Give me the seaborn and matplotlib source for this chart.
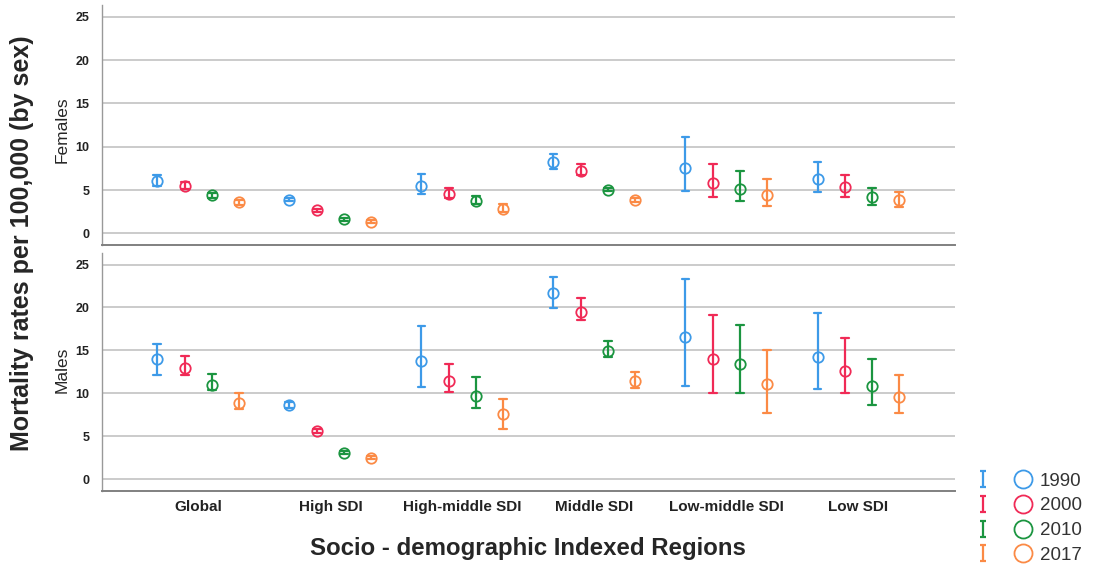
import numpy as np
import pandas as pd
import seaborn as sns
import matplotlib
matplotlib.use("Agg")
import matplotlib.pyplot as plt
from matplotlib.lines import Line2D
from matplotlib.path import Path
from matplotlib.legend_handler import HandlerTuple

regions = ["Global", "High SDI", "High-middle SDI", "Middle SDI", "Low-middle SDI", "Low SDI"]
years = ["1990", "2000", "2010", "2017"]
colors = ["#3d9ae8", "#f02a56", "#1b9540", "#fb8a45"]

# rows = years, columns = regions
f_mid = [[6.0, 3.9, 5.5, 8.25, 7.55, 6.3],
         [5.5, 2.65, 4.5, 7.25, 5.85, 5.4],
         [4.4, 1.6, 3.7, 5.05, 5.1, 4.2],
         [3.6, 1.35, 2.8, 3.85, 4.45, 3.85]]
f_lo = [[5.5, 3.7, 4.5, 7.4, 4.9, 4.8],
        [5.1, 2.45, 4.1, 6.7, 4.25, 4.25],
        [4.1, 1.45, 3.4, 4.85, 3.75, 3.3],
        [3.3, 1.2, 2.5, 3.6, 3.2, 3.0]]
f_hi = [[6.7, 4.1, 6.8, 9.1, 11.15, 8.25],
        [5.9, 2.85, 5.2, 8.0, 8.0, 6.75],
        [4.7, 1.75, 4.3, 5.25, 7.2, 5.2],
        [3.9, 1.5, 3.35, 4.1, 6.3, 4.8]]

m_mid = [[13.95, 8.65, 13.8, 21.7, 16.6, 14.2],
         [13.0, 5.6, 11.45, 19.5, 14.0, 12.6],
         [11.0, 3.1, 9.65, 14.9, 13.4, 10.9],
         [8.9, 2.5, 7.55, 11.45, 11.1, 9.55]]
m_lo = [[12.1, 8.3, 10.7, 19.9, 10.9, 10.45],
        [12.1, 5.4, 10.2, 18.5, 10.0, 10.0],
        [10.35, 2.95, 8.3, 14.2, 10.0, 8.65],
        [8.2, 2.35, 5.9, 10.6, 7.75, 7.7]]
m_hi = [[15.7, 9.0, 17.9, 23.5, 23.35, 19.35],
        [14.4, 5.8, 13.4, 21.05, 19.1, 16.45],
        [12.3, 3.25, 11.85, 16.1, 18.0, 13.95],
        [10.0, 2.7, 9.35, 12.45, 15.0, 12.15]]


def long_table(mid, lo, hi):
    rows = []
    for i, yr in enumerate(years):
        for j, reg in enumerate(regions):
            for v in (lo[i][j], mid[i][j], hi[i][j]):
                rows.append((reg, yr, v))
    return pd.DataFrame(rows, columns=["region", "year", "rate"])


df_f = long_table(f_mid, f_lo, f_hi)
df_m = long_table(m_mid, m_lo, m_hi)

sns.set_style("white")
plt.rcParams["font.family"] = ["Liberation Sans", "DejaVu Sans"]

fig = plt.figure(figsize=(10.99, 5.66), dpi=100)
ax1 = fig.add_axes([0.0928, 0.5671, 0.776, 0.424])
ax2 = fig.add_axes([0.0928, 0.133, 0.776, 0.42])

for ax, df in ((ax1, df_f), (ax2, df_m)):
    sns.pointplot(data=df, x="region", y="rate", hue="year", order=regions,
                  hue_order=years, palette=colors, estimator="median",
                  errorbar=lambda v: (v.min(), v.max()), dodge=0.62,
                  linestyle="none", markers="o", markersize=7.5,
                  markeredgewidth=1.3, markerfacecolor="none",
                  capsize=0.06, err_kws={"linewidth": 1.6},
                  legend=False, ax=ax)
    for ln in ax.lines:
        if ln.get_marker() == "o":
            ln.set_markerfacecolor("none")
    ax.set_xlim(-0.73, 5.73)
    ax.set_yticks([0, 5, 10, 15, 20, 25])
    ax.set_ylim(-1.35, 26.35)
    ax.grid(axis="y", color="#cbcbcb", linewidth=1.4)
    ax.set_axisbelow(True)
    ax.tick_params(axis="y", length=0, pad=9, labelsize=9, labelcolor="#222222")
    ax.tick_params(axis="x", length=0)
    for lbl in ax.get_yticklabels():
        lbl.set_fontweight("bold")
    ax.set_xlabel("")
    ax.set_ylabel("")
    for s in ("top", "right"):
        ax.spines[s].set_visible(False)
    ax.spines["left"].set_color("#999999")
    ax.spines["left"].set_linewidth(1.0)
    ax.spines["bottom"].set_color("#808080")
    ax.spines["bottom"].set_linewidth(1.4)

ax1.set_xticklabels([])
ax2.set_xticks(range(len(regions)))
ax2.set_xticklabels(regions, fontsize=11, fontweight="bold", color="#222222")
ax2.tick_params(axis="x", pad=7)

fig.text(62 / 1099, 1 - 130 / 566, "Females", rotation=90, ha="center", va="center", fontsize=12.5)
fig.text(62 / 1099, 1 - 370 / 566, "Males", rotation=90, ha="center", va="center", fontsize=12.5)
fig.text(22 / 1099, 1 - 243 / 566, "Mortality rates per 100,000 (by sex)", rotation=90,
         ha="center", va="center", fontsize=18, fontweight="bold")
fig.text(528 / 1099, 1 - 548 / 566, "Socio - demographic Indexed Regions",
         ha="center", va="center", fontsize=17.3, fontweight="bold")

# legend: error bar glyph + open circle
ibeam = Path([(-0.4, 1), (0.4, 1), (0, 1), (0, -1), (-0.4, -1), (0.4, -1)],
             [Path.MOVETO, Path.LINETO, Path.MOVETO, Path.LINETO, Path.MOVETO, Path.LINETO])
handles = []
for c in colors:
    bar = Line2D([], [], linestyle="none", marker=ibeam, markersize=11,
                 markeredgecolor=c, markerfacecolor="none", markeredgewidth=1.6)
    circ = Line2D([], [], linestyle="none", marker="o", markersize=13,
                  markeredgecolor=c, markerfacecolor="none", markeredgewidth=1.3)
    handles.append((bar, circ))
fig.legend(handles, years, handler_map={tuple: HandlerTuple(ndivide=None, pad=1.07)},
           loc="lower left", bbox_to_anchor=(973 / 1099, 0.004), frameon=False,
           fontsize=13.5, handlelength=3.2, handletextpad=0.37, labelspacing=0.4,
           labelcolor="#333333", borderpad=0, borderaxespad=0)

fig.savefig("out.png", dpi=100)
